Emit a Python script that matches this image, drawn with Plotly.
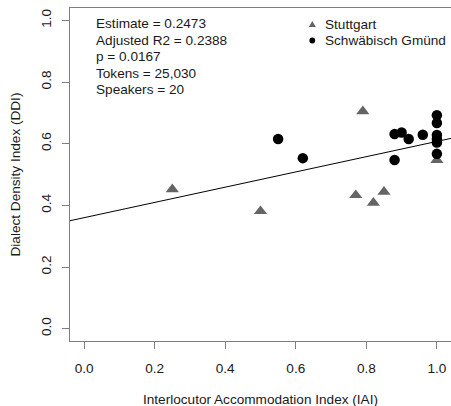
import plotly.graph_objects as go

# Figure geometry (pixels)
W, H = 451, 406
ML, MR, MT, MB = 70, 0, 8, 65

# Speaker data: Interlocutor Accommodation Index vs Dialect Density Index
stuttgart_iai = [0.25, 0.50, 0.77, 0.79, 0.82, 0.85, 1.00]
stuttgart_ddi = [0.452, 0.381, 0.433, 0.705, 0.408, 0.444, 0.547]

gmuend_iai = [0.55, 0.62, 0.88, 0.88, 0.90, 0.92, 0.96, 1.00, 1.00, 1.00, 1.00, 1.00, 1.00]
gmuend_ddi = [0.615, 0.553, 0.631, 0.547, 0.636, 0.615, 0.629, 0.692, 0.667, 0.628, 0.615, 0.604, 0.567]

# Linear model summary
slope = 0.2473
intercept = 0.360
stats_lines = [
    "Estimate = 0.2473",
    "Adjusted R2 = 0.2388",
    "p = 0.0167",
    "Tokens = 25,030",
    "Speakers = 20",
]
legend_labels = ["Stuttgart", "Schwäbisch Gmünd"]

x_range = [-0.04, 1.04]
y_range = [-0.04, 1.04]
ticks = [0.0, 0.2, 0.4, 0.6, 0.8, 1.0]
tick_text = ["0.0", "0.2", "0.4", "0.6", "0.8", "1.0"]

FONT = "Liberation Sans, Arial, Helvetica, sans-serif"
FONT_SIZE = 13.6
TRI_COLOR = "#646464"
AXIS_COLOR = "#7f7f7f"
TEXT_COLOR = "#1a1a1a"

plot_w = W - ML - MR
plot_h = H - MT - MB


def px_to_paper_x(px):
    return (px - ML) / plot_w


def px_to_paper_y(py):
    return (H - MB - py) / plot_h


fig = go.Figure()

# Regression line across the full plotting region
fig.add_trace(go.Scatter(
    x=x_range,
    y=[intercept + slope * v for v in x_range],
    mode="lines",
    line=dict(color="black", width=1),
    showlegend=False,
    hoverinfo="skip",
))

fig.add_trace(go.Scatter(
    x=stuttgart_iai, y=stuttgart_ddi, mode="markers",
    marker=dict(symbol="triangle-up", size=11.5, color=TRI_COLOR),
    name=legend_labels[0], showlegend=False,
))

fig.add_trace(go.Scatter(
    x=gmuend_iai, y=gmuend_ddi, mode="markers",
    marker=dict(symbol="circle", size=10.5, color="black"),
    name=legend_labels[1], showlegend=False,
))

annotations = []

# Model statistics block
stat_y = [23.5, 40.0, 56.5, 73.0, 89.5]
for text, py in zip(stats_lines, stat_y):
    annotations.append(dict(
        text=text, xref="paper", yref="paper",
        x=px_to_paper_x(94), y=px_to_paper_y(py),
        xanchor="left", yanchor="middle", showarrow=False,
        font=dict(family=FONT, size=FONT_SIZE, color=TEXT_COLOR),
    ))

# Legend text
legend_y = [24.5, 40.5]
for text, py in zip(legend_labels, legend_y):
    annotations.append(dict(
        text=text, xref="paper", yref="paper",
        x=px_to_paper_x(322.5), y=px_to_paper_y(py),
        xanchor="left", yanchor="middle", showarrow=False,
        font=dict(family=FONT, size=FONT_SIZE, color=TEXT_COLOR),
    ))

# Axis titles
annotations.append(dict(
    text="Interlocutor Accommodation Index (IAI)", xref="paper", yref="paper",
    x=0.5, y=px_to_paper_y(399), xanchor="center", yanchor="middle",
    showarrow=False, font=dict(family=FONT, size=FONT_SIZE, color=TEXT_COLOR),
))
annotations.append(dict(
    text="Dialect Density Index (DDI)", xref="paper", yref="paper",
    x=px_to_paper_x(15), y=0.5, xanchor="center", yanchor="middle",
    textangle=-90, showarrow=False,
    font=dict(family=FONT, size=FONT_SIZE, color=TEXT_COLOR),
))

# Legend keys drawn as pixel-sized shapes
shapes = [
    dict(type="path", xref="paper", yref="paper",
         xsizemode="pixel", ysizemode="pixel",
         xanchor=px_to_paper_x(312.3), yanchor=px_to_paper_y(legend_y[0]),
         path="M -3.5,-2.5 L 3.5,-2.5 L 0,3.5 Z",
         fillcolor=TRI_COLOR, line=dict(width=0)),
    dict(type="circle", xref="paper", yref="paper",
         xsizemode="pixel", ysizemode="pixel",
         xanchor=px_to_paper_x(312.3), yanchor=px_to_paper_y(legend_y[1]),
         x0=-2.9, x1=2.9, y0=-2.9, y1=2.9,
         fillcolor="black", line=dict(width=0)),
]

axis_common = dict(
    showgrid=False, zeroline=False,
    showline=True, linecolor=AXIS_COLOR, linewidth=1,
    ticks="outside", ticklen=7, tickwidth=1, tickcolor=AXIS_COLOR,
    tickvals=ticks, ticktext=tick_text,
    tickfont=dict(family=FONT, size=FONT_SIZE, color=TEXT_COLOR),
)

fig.update_layout(
    width=W, height=H,
    margin=dict(l=ML, r=MR, t=MT, b=MB, autoexpand=False),
    paper_bgcolor="white", plot_bgcolor="white",
    xaxis=dict(range=x_range, mirror=True, ticklabelstandoff=8, **axis_common),
    yaxis=dict(range=y_range, mirror=False, tickangle=-90, ticklabelstandoff=6, **axis_common),
    annotations=annotations,
    shapes=shapes,
    showlegend=False,
)

fig.write_html("out.html")
